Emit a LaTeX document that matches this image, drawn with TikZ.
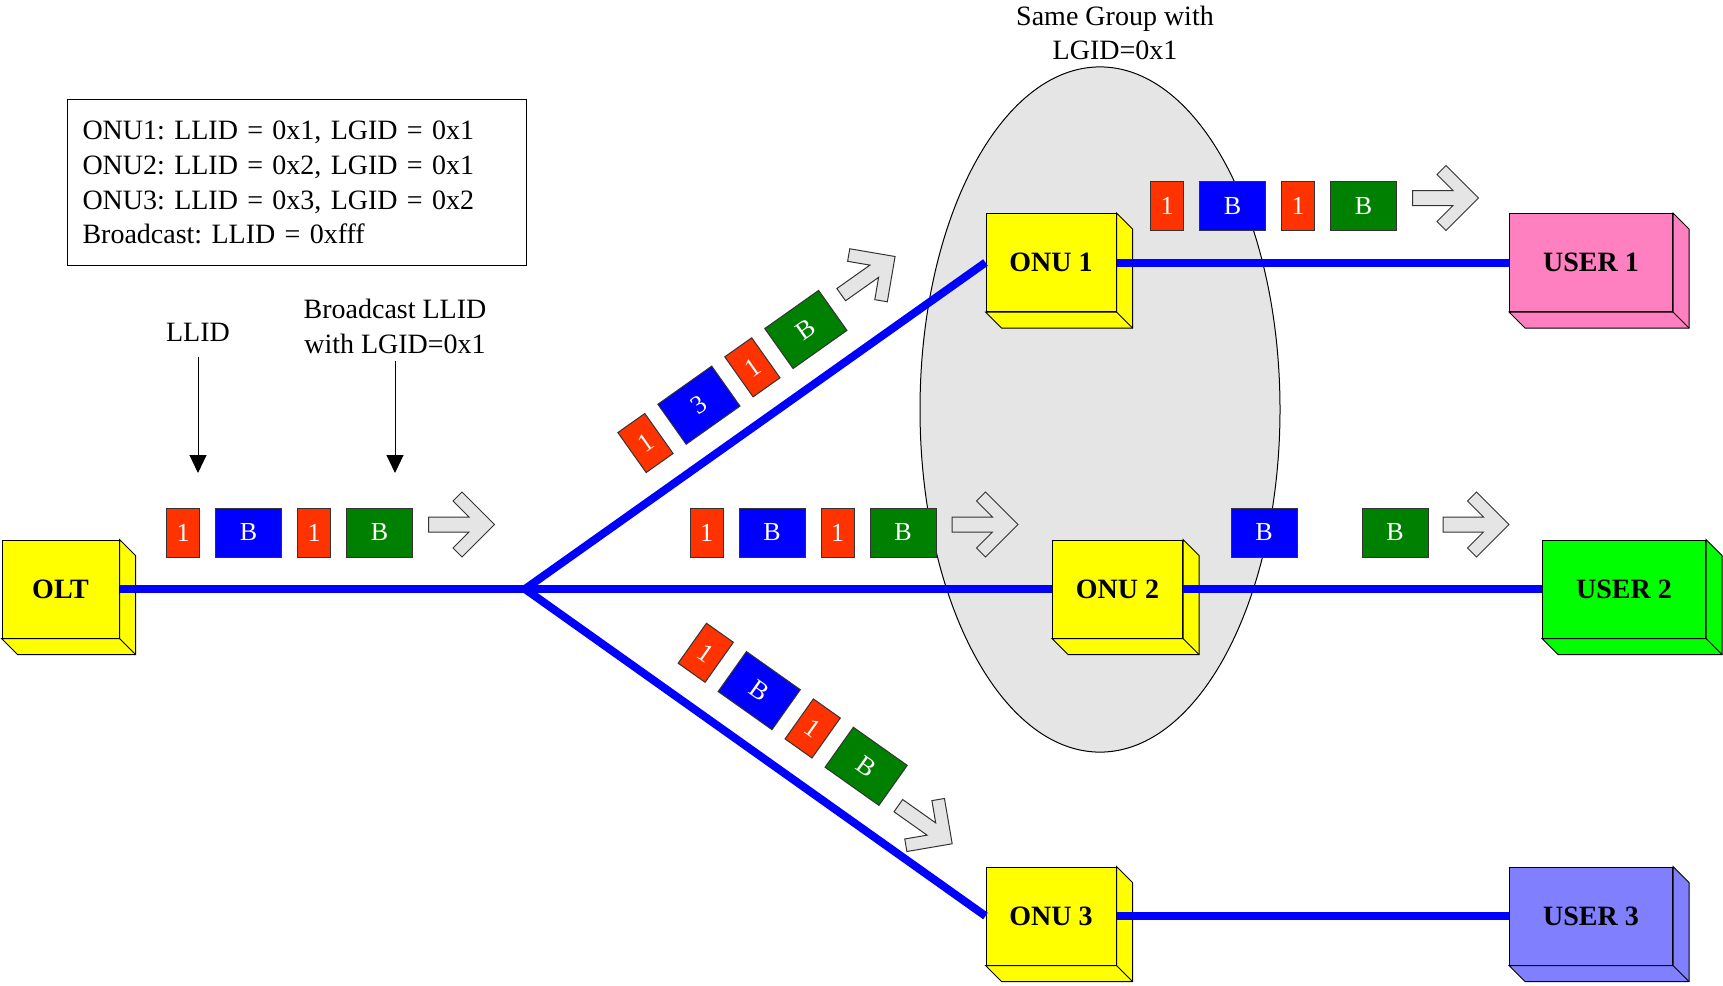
\documentclass[tikz,border=0pt]{standalone}
\usepackage{fontspec}
\setmainfont{Liberation Serif}
\usetikzlibrary{arrows.meta}
\usepackage{xcolor}
\frenchspacing

\definecolor{llidred}{HTML}{FF3300}
\definecolor{frblue}{HTML}{0000FF}
\definecolor{frgreen}{HTML}{008000}
\definecolor{onuyellow}{HTML}{FFFF00}
\definecolor{userpink}{HTML}{FF80C0}
\definecolor{usergreen}{HTML}{00FF00}
\definecolor{userblue}{HTML}{8080FF}

% side and bottom faces of a box node
\newcommand{\extrude}[2]{%
  \filldraw[fill=#2, line width=0.5pt] (#1.north east) -- ++(16,16)
    -- ([shift={(16,16)}]#1.south east) -- ([shift={(16,16)}]#1.south west)
    -- (#1.south west) -- (#1.south east) -- cycle;
  \draw[line width=0.5pt] (#1.south east) -- ++(16,16);
}

\tikzset{
  unit/.style={draw, line width=0.5pt, inner sep=0pt, minimum height=49pt,
    font=\bfseries\fontsize{14}{14}\selectfont},
  onu/.style={unit, fill=onuyellow, minimum width=65pt},
  user/.style={unit, minimum width=81.5pt},
  fiber/.style={draw=blue, line width=4pt},
  frame/.style={draw=black!80, line width=0.5pt, inner sep=0pt, minimum height=24.5pt,
    text=white, font=\fontsize{13}{13}\selectfont},
  llidfr/.style={frame, fill=llidred, minimum width=16.5pt},
  datafr/.style={frame, minimum width=33pt},
  ptr/.style={line width=0.5pt, -{Triangle[length=9pt,width=8.5pt]}},
  pics/fatarrow/.style={code={
    \filldraw[fill=gray!20, draw=black!80, line width=0.5pt] (0,0) -- (-32.5,-32.5)
      -- (-41.5,-23.5) -- (-25.5,-7.5) -- (-66,-7.5) -- (-66,7.5) -- (-25.5,7.5)
      -- (-41.5,23.5) -- (-32.5,32.5) -- cycle;
  }},
  % #1 = label of the blue frame, #2 = height of the arrow above the line
  pics/frames/.style n args={2}{code={
    \node[llidfr] (-a) at (181.5,-56.5) {1};
    \node[datafr, fill=frblue] (-b) at (247,-56.5) {#1};
    \node[llidfr] (-c) at (312.5,-56.5) {1};
    \node[datafr, fill=frgreen] (-d) at (378,-56.5) {B};
    \pic (-e) at (493,#2) {fatarrow};
  }}
}

\begin{document}
\begin{tikzpicture}[x=0.5pt, y=-0.5pt, font=\fontsize{14}{17.4}\selectfont]
  \useasboundingbox (0,0) rectangle (1723,985);
  % logical group
  \draw[fill=gray!20, line width=0.5pt] (1100,409.5) ellipse [x radius=90pt, y radius=171.3pt];
  \node[align=center] (grp) at (1115,33) {Same Group with\\LGID=0x1};
  % boxes
  \node[unit, fill=onuyellow, minimum width=58.5pt] (OLT) at (60.5,589) {OLT};
  \node[onu] (ONU1) at (1051,262.5) {ONU 1};
  \node[onu] (ONU2) at (1117.5,589) {ONU 2};
  \node[onu] (ONU3) at (1051,916) {ONU 3};
  \node[user, fill=userpink] (USER1) at (1591,262.5) {USER 1};
  \node[user, fill=usergreen] (USER2) at (1624,589) {USER 2};
  \node[user, fill=userblue] (USER3) at (1591,916) {USER 3};
  \extrude{OLT}{onuyellow}
  \extrude{ONU1}{onuyellow}
  \extrude{ONU2}{onuyellow}
  \extrude{ONU3}{onuyellow}
  \extrude{USER1}{userpink}
  \extrude{USER2}{usergreen}
  \extrude{USER3}{userblue}
  % fibres
  \coordinate (split) at (525,589);
  \draw[fiber] (OLT.east) -- (split) -- (ONU2.west);
  \draw[fiber, line join=miter] (ONU1.west) -- (split) -- (ONU3.west);
  \draw[fiber] (ONU1.east) -- (USER1.west);
  \draw[fiber] (ONU2.east) -- (USER2.west);
  \draw[fiber] (ONU3.east) -- (USER3.west);
  % frames on each link
  \pic (oltrow) at (OLT.west) {frames={B}{-64.5}};
  \pic (midrow) at (split) {frames={B}{-64.5}};
  \pic[rotate=35.3, transform shape] (uprow) at ([shift={(5,5)}]split) {frames={3}{-64.5}};
  \pic[rotate=-35.3, transform shape] (lowrow) at ([shift={(0,5)}]split) {frames={B}{-43}};
  \pic (toprow) at (ONU1.west) {frames={B}{-64.5}};
  \node[datafr, fill=frblue] (bc1) at (1264,532.5) {B};
  \node[datafr, fill=frgreen] (bc2) at (1395,532.5) {B};
  \pic (bcarrow) at (1509,524.5) {fatarrow};
  % legend
  \node[draw, line width=0.5pt, anchor=north west, align=left, text width=214.5pt,
    inner xsep=7.5pt, minimum height=83pt] (key) at (67,99)
    {ONU1: LLID = 0x1, LGID = 0x1\\ONU2: LLID = 0x2, LGID = 0x1\\ONU3: LLID = 0x3, LGID = 0x2\\Broadcast: LLID = 0xfff};
  % pointers
  \node (llid) at (198,332.7) {LLID};
  \node[align=center] (bcast) at (395,326.5) {Broadcast LLID\\with LGID=0x1};
  \coordinate (llidtip) at (198,473);
  \coordinate (bcasttip) at (395,473);
  \draw[ptr, shorten <=4pt] (llid) -- (llidtip);
  \draw[ptr] (bcast) -- (bcasttip);
\end{tikzpicture}
\end{document}
